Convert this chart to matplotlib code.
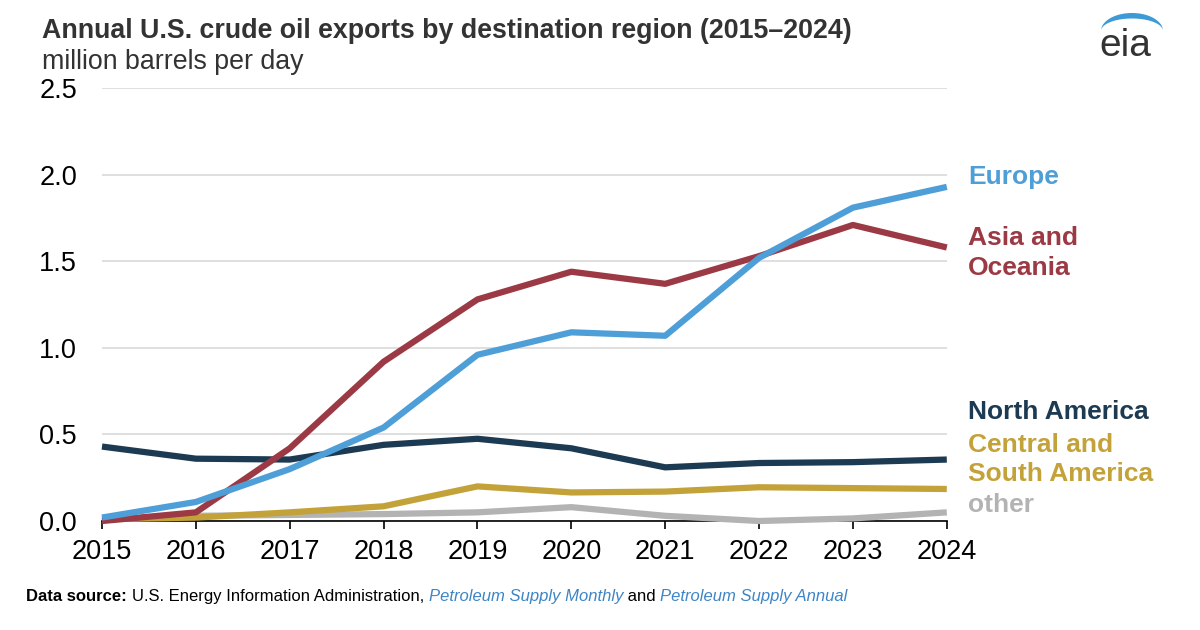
import numpy as np
import matplotlib
matplotlib.use("Agg")
import matplotlib.pyplot as plt
from matplotlib.patches import Polygon

plt.rcParams['font.family'] = ['Liberation Sans', 'DejaVu Sans']

years = [2015, 2016, 2017, 2018, 2019, 2020, 2021, 2022, 2023, 2024]
europe = [0.02, 0.11, 0.30, 0.54, 0.96, 1.09, 1.07, 1.52, 1.81, 1.93]
asia_oceania = [0.00, 0.05, 0.42, 0.92, 1.28, 1.44, 1.37, 1.53, 1.71, 1.58]
north_america = [0.43, 0.36, 0.355, 0.44, 0.475, 0.42, 0.31, 0.335, 0.34, 0.355]
central_south_america = [0.01, 0.02, 0.05, 0.085, 0.20, 0.165, 0.17, 0.195, 0.19, 0.185]
other = [0.01, 0.03, 0.035, 0.04, 0.05, 0.08, 0.03, 0.00, 0.015, 0.05]

series = [
    ("other", other, "#b3b3b3"),
    ("Central and\nSouth America", central_south_america, "#c4a23a"),
    ("North America", north_america, "#1c3a52"),
    ("Asia and\nOceania", asia_oceania, "#9b3a44"),
    ("Europe", europe, "#4e9ed8"),
]
label_y = {"Europe": 1.985, "Asia and\nOceania": 1.547, "North America": 0.63,
           "Central and\nSouth America": 0.355, "other": 0.092}

fig = plt.figure(figsize=(12, 6.3), dpi=100)
ax = fig.add_axes([0.085, 0.173, 0.704, 0.687])

for name, vals, col in series:
    ax.plot(years, vals, color=col, lw=4.5, solid_capstyle='butt', clip_on=False, zorder=3)
    ax.text(1.025, label_y[name], name, transform=ax.get_yaxis_transform(),
            color=col, fontsize=19, fontweight='bold', va='center', ha='left',
            linespacing=1.3)

ax.set_xlim(2015, 2024)
ax.set_ylim(0, 2.5)
ax.set_xticks(years)
ax.set_xticklabels([str(y) for y in years])
ax.set_yticks([0, 0.5, 1.0, 1.5, 2.0, 2.5])
ax.set_yticklabels(["0.0", "0.5", "1.0", "1.5", "2.0", "2.5"])
ax.grid(axis='y', color='#d9d9d9', lw=1.2)
ax.set_axisbelow(True)
for s in ['top', 'right', 'left']:
    ax.spines[s].set_visible(False)
ax.spines['bottom'].set_color('black')
ax.spines['bottom'].set_linewidth(1.2)
ax.tick_params(axis='y', length=0, labelsize=19.5, pad=18)
ax.tick_params(axis='x', length=6, width=1.2, labelsize=19.5, pad=7)

fig.text(0.035, 0.950, "Annual U.S. crude oil exports by destination region (2015\u20132024)",
         fontsize=19.3, fontweight='bold', color='#333333', va='center')
fig.text(0.035, 0.902, "million barrels per day", fontsize=19.3, color='#333333', va='center')

# footer
fy = 0.053
t = fig.text(0.022, fy, "Data source: ", fontsize=12, fontweight='bold', color='black', va='center')
fig.canvas.draw()
r = fig.canvas.get_renderer()
def after(tt):
    bb = tt.get_window_extent(r)
    return bb.x1 / fig.bbox.width
parts = [("U.S. Energy Information Administration, ", 'normal', 'black'),
         ("Petroleum Supply Monthly", 'italic', '#3d85c6'),
         (" and ", 'normal', 'black'),
         ("Petroleum Supply Annual", 'italic', '#3d85c6')]
x = after(t)
for txt, style, col in parts:
    tt = fig.text(x, fy, txt, fontsize=12, style=style, color=col, va='center')
    fig.canvas.draw()
    x = after(tt)

# eia logo
fig.text(1125 / 1200, 1 - 56 / 630, "eia", fontsize=28, color='#333333',
         ha='center', va='baseline')
th = np.linspace(np.pi * 0.97, np.pi * 0.03, 80)
cx, cy = 1132, 630 - 31
outer = [(cx + 31 * np.cos(a), cy + 18 * np.sin(a)) for a in th]
inner = [(cx + 31 * np.cos(a), cy + 12.5 * np.sin(a)) for a in th[::-1]]
pts = np.array(outer + inner)
pts[:, 0] /= 1200
pts[:, 1] /= 630
fig.patches.append(Polygon(pts, closed=True, transform=fig.transFigure,
                           facecolor='#3d9ad6', edgecolor='none'))

fig.savefig("out.png", dpi=100, facecolor='white')
